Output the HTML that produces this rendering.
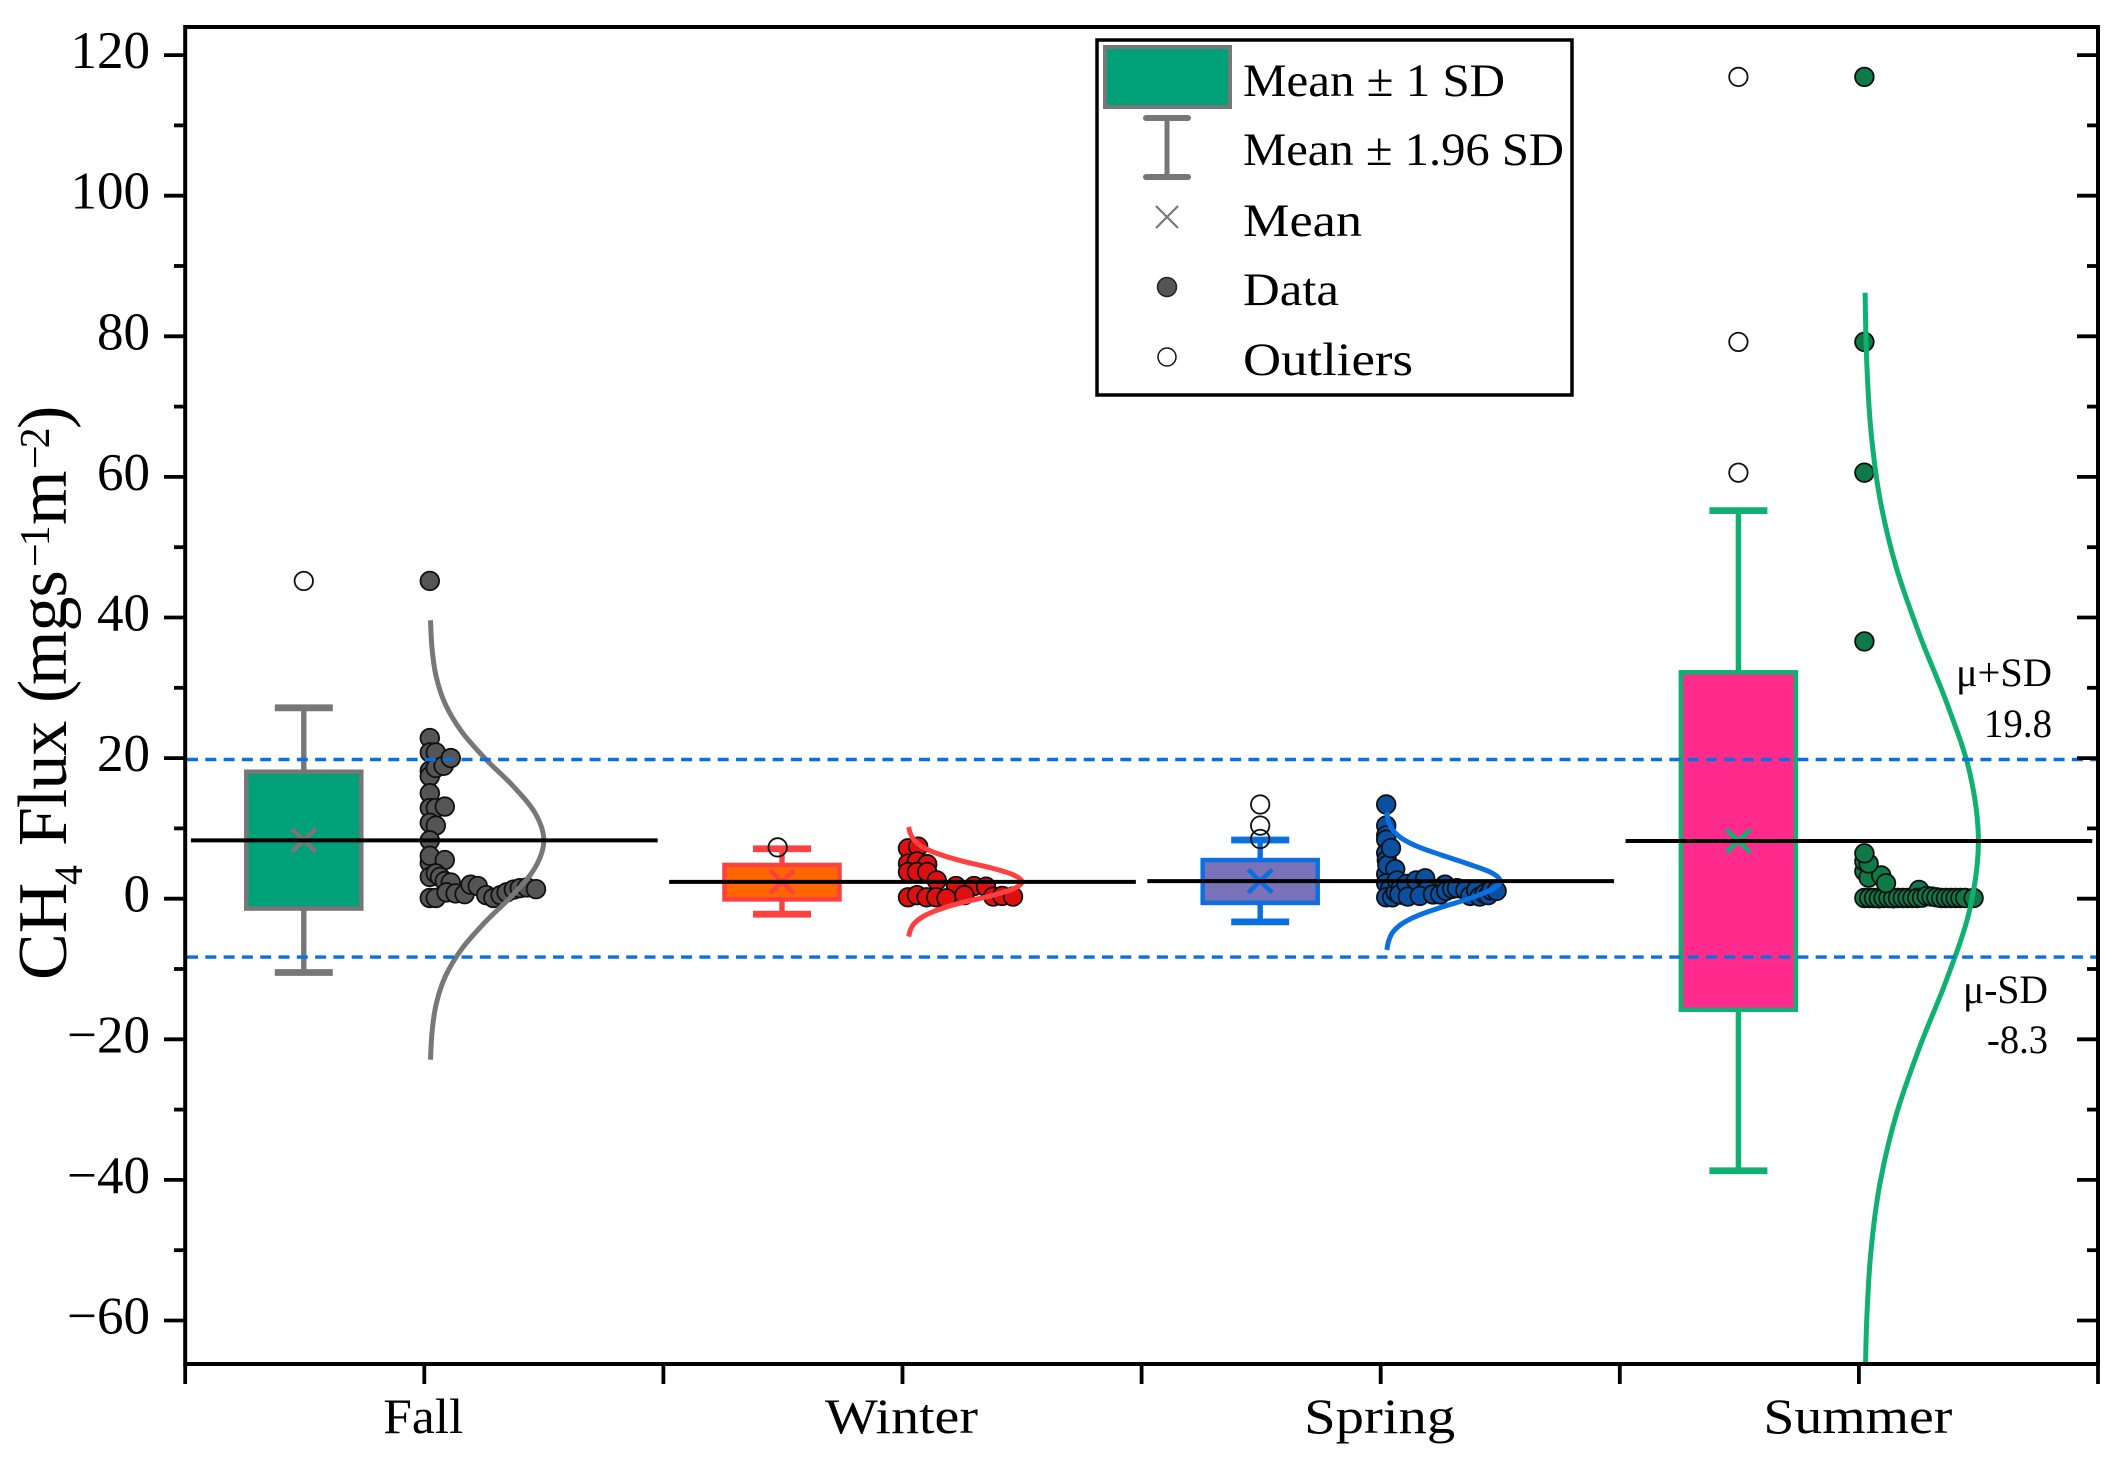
<!DOCTYPE html>
<html lang="en">
<head>
<meta charset="utf-8">
<title>CH4 Flux by Season</title>
<style>
html,body{margin:0;padding:0;background:#fff;}
svg{display:block;}
text{font-family:"Liberation Serif","DejaVu Serif",serif;fill:#000;}
</style>
</head>
<body>
<svg id="chart" xmlns="http://www.w3.org/2000/svg" width="2117" height="1470" viewBox="0 0 2117 1470">
  <defs>
    <clipPath id="plot-clip"><rect x="185" y="27" width="1913" height="1337"></rect></clipPath>
  </defs>
  <rect x="0" y="0" width="2117" height="1470" fill="#fff"></rect>
  <g id="marks"></g>
  <g id="axes"></g>
  <rect x="185.2" y="27" width="1912.8" height="1337" fill="none" stroke="#000" stroke-width="4"></rect>

  <text transform="translate(66,980) rotate(-90)" font-size="70"><tspan x="0" y="0">CH</tspan><tspan x="95" y="16" font-size="40">4</tspan><tspan x="134" y="0" letter-spacing="-1">Flux</tspan><tspan x="277" y="0">(</tspan><tspan x="295" y="0" letter-spacing="-1">mgs</tspan><tspan x="413" y="-17" font-size="42" letter-spacing="-3">−1</tspan><tspan x="455" y="0">m</tspan><tspan x="511" y="-17" font-size="42" letter-spacing="-3">−2</tspan><tspan x="551" y="0">)</tspan></text>

  <text x="1956" y="686" font-size="40" textLength="96" lengthAdjust="spacingAndGlyphs">μ+SD</text>
  <text x="1984" y="737" font-size="40" textLength="68" lengthAdjust="spacingAndGlyphs">19.8</text>
  <text x="1963" y="1003" font-size="40" textLength="85" lengthAdjust="spacingAndGlyphs">μ-SD</text>
  <text x="1987" y="1053" font-size="40" textLength="61" lengthAdjust="spacingAndGlyphs">-8.3</text>

  <g>
    <rect x="1097" y="40" width="475" height="355" fill="#fff" stroke="#000" stroke-width="3.5"></rect>
    <rect x="1105" y="47" width="125" height="60" fill="#00a078" stroke="#777" stroke-width="4"></rect>
    <g stroke="#777" fill="none">
      <line x1="1167" y1="118" x2="1167" y2="177" stroke-width="5"></line>
      <line x1="1146" y1="118" x2="1188" y2="118" stroke-width="6" stroke-linecap="round"></line>
      <line x1="1146" y1="177" x2="1188" y2="177" stroke-width="6" stroke-linecap="round"></line>
    </g>
    <g stroke="#777" stroke-width="2.2" fill="none">
      <line x1="1156" y1="206" x2="1178" y2="228"></line>
      <line x1="1178" y1="206" x2="1156" y2="228"></line>
    </g>
    <circle cx="1167" cy="287" r="9.5" fill="#555" stroke="#222" stroke-width="1.5"></circle>
    <circle cx="1167" cy="357" r="9" fill="#fff" stroke="#111" stroke-width="1.5"></circle>
    <text x="1243" y="96" font-size="47" textLength="262" lengthAdjust="spacingAndGlyphs">Mean ± 1 SD</text>
    <text x="1243" y="165" font-size="47" textLength="321" lengthAdjust="spacingAndGlyphs">Mean ± 1.96 SD</text>
    <text x="1243" y="236" font-size="47" textLength="119" lengthAdjust="spacingAndGlyphs">Mean</text>
    <text x="1243" y="305" font-size="47" textLength="96" lengthAdjust="spacingAndGlyphs">Data</text>
    <text x="1243" y="375" font-size="47" textLength="170" lengthAdjust="spacingAndGlyphs">Outliers</text>
  </g>
</svg>

<script>
var categories = ['Fall', 'Winter', 'Spring', 'Summer'];
var slugs = ['fall', 'winter', 'spring', 'summer'];
var yTickLabels = [120, 100, 80, 60, 40, 20, 0, -20, -40, -60];
var yMinorTicks = [110, 90, 70, 50, 30, 10, -10, -30, -50];
var categoryLabelLengths = [80, 153, 151, 189];

var means = [8.3, 2.4, 2.5, 8.2];
var boxHigh = [18.06, 4.8, 5.5, 32.2];
var boxLow = [-1.4, -0.1, -0.6, -15.8];
var whiskerHigh = [27.15, 7.1, 8.35, 55.2];
var whiskerLow = [-10.5, -2.2, -3.3, -38.7];
var sdUpper = 19.8;
var sdLower = -8.3;

var outliersFall = [45.2];
var outliersWinter = [7.3];
var outliersSpring = [13.4, 10.4, 8.5];
var outliersSummer = [116.9, 79.2, 60.6];
var outlierShift = [-0.002, -0.011, -0.002, -0.002];

var dotsFallY = [45.2,22.85,20.8,20.8,18.2,17.4,18.6,18.9,20,15,12.9,12.9,13.1,10.8,10.4,8.3,5.1,6.1,5.5,3.1,3.6,3.1,2.5,2.3,0.1,0.1,0.9,0.75,0.65,2,1.8,0.5,0.1,0.5,0.9,1.3,1.5,1.6,1.35];
var dotsFallSlot = [0,0,0,1,0,0,1,2.3,3.5,0,0,1,2.5,0,1,0,0,0,2.5,0,1,1.7,2.5,3.5,0,1,2.8,4.3,5.8,6.8,8,9.4,10.6,11.8,12.8,14,15,16.2,17.7];

var dotsWinterY = [7.17,7.4,5,5.3,4.9,3.8,3.8,3.8,2.6,1.8,1.8,1.7,0.2,0.5,0.2,0.2,0.06,0.5,0.3,0.4,0.3];
var dotsWinterSlot = [0,1.7,0,1.5,3.2,0,1.5,3.2,4.8,8,11,13,0,1.5,3.1,4.7,6.4,9.4,14.2,15.7,17.5];

var dotsSpringY = [13.4,10.4,9,8.4,6.5,5.5,3.5,4.8,7.2,4.2,2.2,1.5,0.2,0.2,0.9,0.5,0.7,1.2,2.6,1.5,0.6,2.1,0.3,2.6,2.9,1.2,0.4,0.6,2,0.6,1.1,1.4,1.5,1.2,0.4,1.2,0.3,0.7,0.5,1.2,1.1];
var dotsSpringSlot = [0,0,0,0,0,0.1,0,0.2,0.8,1.5,0,0.7,0,1,1.6,3,4,4.8,1.8,2.4,2.2,3.4,3.6,5,6.5,6.8,5.6,7.8,9.8,9,10,11,11.8,13.2,14,15,15.6,16.4,17,17.5,18.4];

var dotsSummerY = [116.9,79.2,60.6,36.6,0.1,0.1,0.1,0.05,0.1,0.1,0.05,0.1,0.1,0.1,0.1,1.25,0.1,0.15,0.4,0.3,0.2,0.1,0.1,0.1,0.1,0.1,0.1,0.1,3.9,3,3.3,5.3,5,6.45,2.2];
var dotsSummerSlot = [0,0,0,0,0,0.8,1.6,2.4,3.2,4,4.8,5.6,6.4,7.2,8,9.1,8.8,9.6,10.4,11.2,12,12.8,13.6,14.4,15.2,16,16.8,18.2,0,0.7,2.8,0,0.7,0,3.6];

var curveDensity = [0.006,0.02,0.056,0.135,0.278,0.487,0.726,0.923,1,0.923,0.726,0.487,0.278,0.135,0.056,0.02,0.006];
var curveFallY = [39.6,35.5,31.6,27.7,23.8,19.9,16.1,12.2,8.3,4.4,0.5,-3.3,-7.2,-11.1,-15,-18.9,-22.9];
var curveWinterY = [10.2,9.3,8.3,7.3,6.3,5.3,4.4,3.4,2.4,1.4,0.4,-0.5,-1.5,-2.5,-3.5,-4.5,-5.4];
var curveSpringY = [12.3,11,9.8,8.6,7.4,6.2,4.9,3.7,2.5,1.3,0,-1.2,-2.4,-3.6,-4.8,-6.1,-7.3];
var curveSummerY = [86.2,76.5,66.8,57,47.2,37.4,27.7,18,8.2,-1.6,-11.3,-21,-30.8,-40.6,-50.4,-60.1,-69.8];

var outlierSets = [outliersFall, outliersWinter, outliersSpring, outliersSummer];
var dotYSets = [dotsFallY, dotsWinterY, dotsSpringY, dotsSummerY];
var dotSlotSets = [dotsFallSlot, dotsWinterSlot, dotsSpringSlot, dotsSummerSlot];
var curveSets = [curveFallY, curveWinterY, curveSpringY, curveSummerY];

var strokeColors = ['#777777', '#ff4040', '#0a6fe0', '#0fb070'];
var boxFills = ['#00a078', '#ff6600', '#7a72b8', '#ff2a8c'];
var dotFills = ['#555555', '#dd1010', '#0a50a0', '#0e7a48'];

function y(v) { return 898.7 - v * 7.03; }
function x(v) { return 185.2 + (v - 0.5) * 478.2; }
function slotX(cat, slot) { return x(cat + 1.0115) + slot * 6; }
function densityX(cat, d) { return x(cat + 1.0115) + d * 114; }

var NS = 'http://www.w3.org/2000/svg';
var marks = document.getElementById('marks');
var axes = document.getElementById('axes');

function make(tag, parent, props) {
  var el = document.createElementNS(NS, tag);
  for (var k in props) { el.setAttribute(k, props[k]); }
  parent.appendChild(el);
  return el;
}

function smoothPath(pts) {
  var d = 'M' + pts[0][0].toFixed(2) + ' ' + pts[0][1].toFixed(2);
  for (var i = 0; i < pts.length - 1; i++) {
    var p0 = pts[Math.max(i - 1, 0)], p1 = pts[i], p2 = pts[i + 1], p3 = pts[Math.min(i + 2, pts.length - 1)];
    var c1x = p1[0] + (p2[0] - p0[0]) / 6, c1y = p1[1] + (p2[1] - p0[1]) / 6;
    var c2x = p2[0] - (p3[0] - p1[0]) / 6, c2y = p2[1] - (p3[1] - p1[1]) / 6;
    d += 'C' + c1x.toFixed(2) + ' ' + c1y.toFixed(2) + ' ' + c2x.toFixed(2) + ' ' + c2y.toFixed(2) + ' ' + p2[0].toFixed(2) + ' ' + p2[1].toFixed(2);
  }
  return d;
}

/* boxes, whiskers, dots, curves, mean lines per category */
categories.forEach(function (name, c) {
  var slug = slugs[c];
  var col = strokeColors[c];
  var cx = x(c + 0.748);
  var g = make('g', marks, {});
  
  

  var stem = make('line', g, { x1: cx, x2: cx, y1: y(whiskerHigh[c]), y2: y(whiskerLow[c]), stroke: col, 'stroke-width': 5.4 });
  
  

  var capTop = make('line', g, { x1: cx - 29, x2: cx + 29, y1: y(whiskerHigh[c]), y2: y(whiskerHigh[c]), stroke: col, 'stroke-width': 6.8 });
  
  

  var capLow = make('line', g, { x1: cx - 29, x2: cx + 29, y1: y(whiskerLow[c]), y2: y(whiskerLow[c]), stroke: col, 'stroke-width': 6.8 });
  
  

  var box = make('rect', g, { x: cx - 57.5, width: 115, y: y(boxHigh[c]), height: y(boxLow[c]) - y(boxHigh[c]), fill: boxFills[c], stroke: col, 'stroke-width': 4.5 });
  
  

  var my = y(means[c]);
  var mg = make('g', g, { stroke: col, 'stroke-width': 4.5 });
  
  
  make('line', mg, { x1: cx - 12, y1: my - 11.5, x2: cx + 12, y2: my + 11.5 });
  make('line', mg, { x1: cx + 12, y1: my - 11.5, x2: cx - 12, y2: my + 11.5 });

  outlierSets[c].forEach(function (v) {
    var o = make('circle', g, { cx: x(c + 0.75 + outlierShift[c]), cy: y(v), r: 9.2, fill: 'none', stroke: '#111', 'stroke-width': 1.8 });
    
    
  });

  dotYSets[c].forEach(function (v, i) {
    var d = make('circle', g, { cx: slotX(c, dotSlotSets[c][i]), cy: y(v), r: 9.3, fill: dotFills[c], stroke: '#111', 'stroke-width': 1.8 });
    
    
  });

  var pts = curveSets[c].map(function (v, i) { return [densityX(c, curveDensity[i]), y(v)]; });
  var curve = make('path', g, { d: smoothPath(pts), fill: 'none', stroke: col, 'stroke-width': 5, 'clip-path': 'url(#plot-clip)' });
  
  

  var ml = make('line', g, { x1: x(c + 1 - 0.488), x2: x(c + 1 + 0.488), y1: my, y2: my, stroke: '#000', 'stroke-width': 4 });
  
  
});

/* dashed SD reference lines */
var dashHigh = make('line', marks, { x1: 187, x2: 2096, y1: y(sdUpper), y2: y(sdUpper), stroke: '#0a6fe0', 'stroke-width': 3.4, 'stroke-dasharray': '11 7.3' });


var dashLow = make('line', marks, { x1: 187, x2: 2096, y1: y(sdLower), y2: y(sdLower), stroke: '#0a6fe0', 'stroke-width': 3.4, 'stroke-dasharray': '11 7.3' });



/* y axis ticks */
yTickLabels.forEach(function (v) {
  var t = make('line', axes, { x1: 164, x2: 185, y1: y(v), y2: y(v), stroke: '#000', 'stroke-width': 3.8 });
  
  
  var r = make('line', axes, { x1: 2077, x2: 2098, y1: y(v), y2: y(v), stroke: '#000', 'stroke-width': 3.8 });
  
  
  var l = make('text', axes, { x: 150, y: y(v) + 13, 'text-anchor': 'end', 'font-size': 53 });
  
  
  l.textContent = (v < 0 ? '−' + (-v) : String(v));
});
yMinorTicks.forEach(function (v) {
  var t = make('line', axes, { x1: 174, x2: 185, y1: y(v), y2: y(v), stroke: '#000', 'stroke-width': 3.8 });
  
  
  var r = make('line', axes, { x1: 2087, x2: 2098, y1: y(v), y2: y(v), stroke: '#000', 'stroke-width': 3.8 });
  
  
});

/* x axis ticks and labels */
for (var k = 0; k <= 8; k++) {
  var xp = x(0.5 + k / 2);
  var tick = make('line', axes, { x1: xp, x2: xp, y1: 1364, y2: 1384, stroke: '#000', 'stroke-width': 3.8 });
  
  
}
categories.forEach(function (name, c) {
  var lab = make('text', axes, { x: x(c + 1) - 1, y: 1433, 'text-anchor': 'middle', 'font-size': 50, textLength: categoryLabelLengths[c], lengthAdjust: 'spacingAndGlyphs' });
  
  
  lab.textContent = name;
});
</script>
</body>
</html>
